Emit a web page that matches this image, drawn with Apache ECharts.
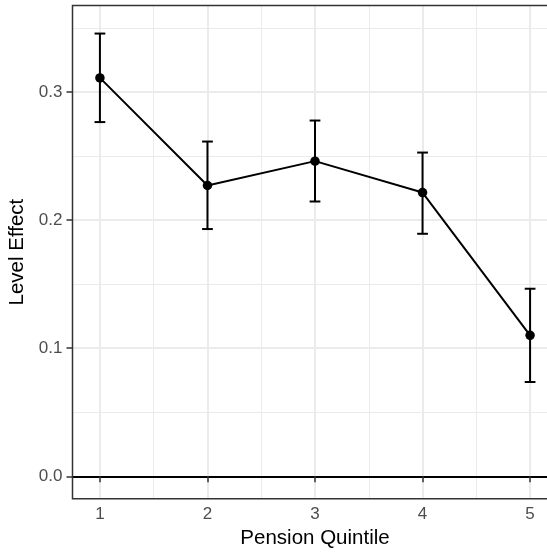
<!DOCTYPE html>
<html>
<head>
<meta charset="utf-8">
<script src="https://cdn.jsdelivr.net/npm/echarts@6/dist/echarts.min.js"></script>
<style>html,body{margin:0;padding:0;background:#fff;}#c{width:547px;height:554px;}</style>
</head>
<body>
<div id="c"></div>
<script>
var quintiles = [1, 2, 3, 4, 5];
var estimates = [0.311, 0.227, 0.246, 0.2215, 0.110];
var lowerCI = [0.2765, 0.193, 0.2145, 0.1893, 0.0736];
var upperCI = [0.3456, 0.2613, 0.2777, 0.2527, 0.1464];
var xTicks = [1, 2, 3, 4, 5];
var yTicks = [0, 0.1, 0.2, 0.3];
var xMinor = [1.5, 2.5, 3.5, 4.5];
var yMinor = [0.05, 0.15, 0.25, 0.35];

var chart = echarts.init(document.getElementById('c'), null, {renderer: 'canvas'});
var font = 'Liberation Sans, Arial, Helvetica, sans-serif';

function gridLines(vals, axis, w) {
  return vals.map(function (v) {
    var o = {}; o[axis] = v;
    o.lineStyle = {color: '#EBEBEB', width: w, type: 'solid'};
    return o;
  });
}

var pointData = quintiles.map(function (q, i) { return [q, estimates[i]]; });
var errData = quintiles.map(function (q, i) { return [q, lowerCI[i], upperCI[i]]; });

chart.setOption({
  animation: false,
  backgroundColor: '#ffffff',
  grid: {
    left: 72.5, top: 5.5, width: 485, height: 493.2,
    outerBoundsMode: 'none', containLabel: false,
    show: true, borderColor: '#333333', borderWidth: 1.5, backgroundColor: 'transparent'
  },
  xAxis: {
    type: 'value', min: 0.745, max: 5.255,
    name: 'Pension Quintile', nameLocation: 'middle', nameGap: 29,
    nameTextStyle: {fontFamily: font, fontSize: 20.5, color: '#000'},
    axisLine: {show: false},
    axisTick: {show: true, length: 6, customValues: xTicks, lineStyle: {color: '#333333', width: 1.5}},
    axisLabel: {customValues: xTicks, margin: 7, fontFamily: font, fontSize: 17, color: '#4D4D4D'},
    splitLine: {show: false}
  },
  yAxis: {
    type: 'value', min: -0.0175, max: 0.3675,
    name: 'Level Effect', nameLocation: 'middle', nameGap: 41, nameRotate: 90,
    nameTextStyle: {fontFamily: font, fontSize: 20.5, color: '#000'},
    axisLine: {show: false},
    axisTick: {show: true, length: 6, customValues: yTicks, lineStyle: {color: '#333333', width: 1.5}},
    axisLabel: {customValues: yTicks, margin: 10, fontFamily: font, fontSize: 17, color: '#4D4D4D',
      formatter: function (v) { return v.toFixed(1); }},
    splitLine: {show: false}
  },
  series: [
    {
      type: 'line', data: [], silent: true, z: -2,
      markLine: {
        silent: true, symbol: ['none', 'none'], label: {show: false}, z: -2,
        data: gridLines(xMinor, 'xAxis', 1).concat(gridLines(yMinor, 'yAxis', 1))
          .concat(gridLines(xTicks, 'xAxis', 2)).concat(gridLines(yTicks, 'yAxis', 2))
      }
    },
    {
      type: 'line', data: [], silent: true, z: -1,
      markLine: {
        silent: true, symbol: ['none', 'none'], label: {show: false}, z: -1,
        data: [{yAxis: 0, lineStyle: {color: '#000', width: 2.2, type: 'solid'}}]
      }
    },
    {
      type: 'custom', data: errData, silent: true,
      renderItem: function (params, api) {
        var x = api.value(0);
        var lo = api.coord([x, api.value(1)]);
        var hi = api.coord([x, api.value(2)]);
        var a = api.coord([x - 0.05, api.value(1)]);
        var b = api.coord([x + 0.05, api.value(1)]);
        var hw = (b[0] - a[0]) / 2;
        var style = {stroke: '#000', lineWidth: 2, fill: null};
        return {type: 'group', children: [
          {type: 'line', shape: {x1: lo[0], y1: lo[1], x2: hi[0], y2: hi[1]}, style: style},
          {type: 'line', shape: {x1: lo[0] - hw, y1: lo[1], x2: lo[0] + hw, y2: lo[1]}, style: style},
          {type: 'line', shape: {x1: hi[0] - hw, y1: hi[1], x2: hi[0] + hw, y2: hi[1]}, style: style}
        ]};
      },
      z: 5
    },
    {
      type: 'line', data: pointData, silent: true,
      lineStyle: {color: '#000', width: 2},
      itemStyle: {color: '#000'},
      symbol: 'circle', symbolSize: 9.5, showSymbol: true,
      z: 6
    }
  ]
});
</script>
</body>
</html>
